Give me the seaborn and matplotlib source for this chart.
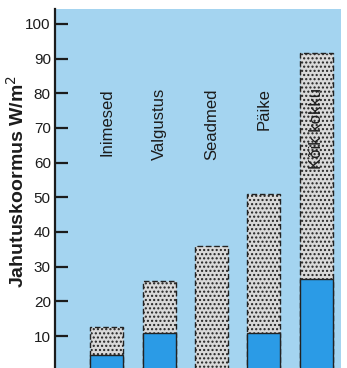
import numpy as np
import pandas as pd
import matplotlib
matplotlib.use("Agg")
import matplotlib.pyplot as plt
import seaborn as sns

# Data
categories = ["Inimesed", "Valgustus", "Seadmed", "Päike", "Kõik kokku"]
total_load = [12.5, 26, 36, 51, 91.5]
blue_part = [4.5, 11, 0, 11, 26.5]
yticks = [10, 20, 30, 40, 50, 60, 70, 80, 90, 100]

df = pd.DataFrame({"cat": categories, "total": total_load, "blue": blue_part})

sns.set_style("white")
plt.rcParams["font.family"] = ["Liberation Sans", "DejaVu Sans"]
plt.rcParams["hatch.color"] = "#7a7a7a"
plt.rcParams["hatch.linewidth"] = 1.0

fig = plt.figure(figsize=(3.47, 3.68), dpi=100)
ax = fig.add_axes([0.1585, 0.0, 0.824, 0.9755])
ax.set_facecolor("#a4d4f0")

# grey (total) bars with dotted texture and dashed outline
sns.barplot(data=df, x="cat", y="total", color="#d9d9d9", width=0.63,
            saturation=1, ax=ax, zorder=2)
for p in ax.patches:
    p.set_hatch("....")
    p.set_edgecolor("#222222")
    p.set_linestyle((0, (4, 2)))
    p.set_linewidth(1.0)
n_grey = len(ax.patches)

# blue part at the bottom
sns.barplot(data=df, x="cat", y="blue", color="#2b9be6", width=0.63,
            saturation=1, ax=ax, zorder=3)
for p in ax.patches[n_grey:]:
    p.set_edgecolor("#222222")
    p.set_linewidth(1.0)
    if p.get_height() == 0:
        p.set_visible(False)

# category labels, rotated, top aligned
for i, name in enumerate(categories):
    ax.text(i, 81.5, name, rotation=90, ha="center", va="top",
            fontsize=12, color="#1c1c1c", zorder=4)

ax.set_xlim(-0.99, 4.47)
ax.set_ylim(0.78, 104.3)
ax.set_yticks(yticks)
ax.set_yticklabels([str(v) for v in yticks], fontsize=11, color="#1c1c1c")
ax.set_xticks([])
ax.set_xlabel("")
ax.set_ylabel("Jahutuskoormus W/m$^2$", fontsize=14, fontweight="bold",
              color="#1c1c1c")
ax.yaxis.set_label_coords(-0.094, 0.52)
ax.tick_params(axis="y", direction="in", length=9, width=1.6, color="#1c1c1c",
               left=True, pad=3)
for s in ["top", "right", "bottom"]:
    ax.spines[s].set_visible(False)
ax.spines["left"].set_linewidth(1.6)
ax.spines["left"].set_color("#1c1c1c")

fig.savefig("out.png", dpi=100)
